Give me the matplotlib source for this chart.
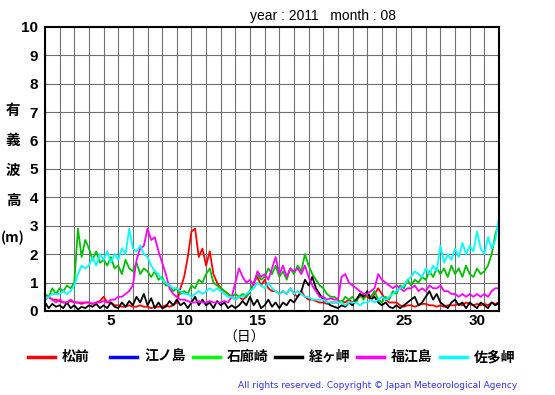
import numpy as np
import matplotlib.pyplot as plt
from matplotlib.lines import Line2D

# significant wave height, August 2011, sampled every 6 hours (4 values per day)
days = np.arange(125) / 4.0

matsumae = [0.4, 0.5, 0.4, 0.4, 0.35, 0.3, 0.3, 0.35, 0.3, 0.3, 0.25, 0.3, 0.3, 0.25, 0.3, 0.35,
            0.5, 0.3, 0.3, 0.2, 0.2, 0.15, 0.15, 0.2, 0.15, 0.15, 0.2, 0.15, 0.15, 0.1, 0.15, 0.15,
            0.15, 0.2, 0.15, 0.2, 0.3, 0.8, 1.2, 1.9, 2.8, 2.9, 1.9, 2.2, 1.6, 2.1, 1.3, 1.0,
            0.8, 0.7, 0.6, 0.5, 0.4, 0.5, 0.4, 0.5, 0.7, 1.0, 1.2, 0.9, 1.1, 0.8, 0.7, 0.7,
            0.6, 0.7, 0.6, 0.8, 0.6, 0.5, 0.7, 0.5, 0.4, 0.4, 0.35, 0.3, 0.3, 0.25, 0.3, 0.3,
            0.3, 0.35, 0.3, 0.4, 0.3, 0.4, 0.5, 0.6, 0.5, 0.4, 0.6, 0.8, 0.6, 0.4, 0.3, 0.3,
            0.3, 0.2, 0.15, 0.2, 0.2, 0.15, 0.2, 0.25, 0.25, 0.2, 0.2, 0.15, 0.2, 0.15, 0.2, 0.2,
            0.2, 0.25, 0.2, 0.3, 0.25, 0.2, 0.25, 0.2, 0.25, 0.2, 0.3, 0.25, 0.3]
enoshima = []
irozaki = [0.6, 0.5, 0.8, 0.6, 0.8, 0.7, 0.9, 0.8, 1.0, 2.9, 1.9, 2.5, 2.2, 1.8, 2.1, 1.7,
           1.8, 1.6, 1.9, 1.5, 1.6, 1.3, 1.8, 1.5, 1.4, 1.7, 1.3, 1.5, 1.4, 1.2, 1.4, 1.1,
           1.2, 0.9, 0.9, 0.7, 0.8, 0.6, 0.7, 0.6, 0.9, 0.8, 1.1, 1.0, 1.3, 1.5, 1.0, 0.9,
           0.8, 0.7, 0.6, 0.5, 0.6, 0.5, 0.6, 0.5, 0.7, 1.0, 1.3, 1.1, 1.2, 1.5, 1.3, 1.6,
           1.2, 1.4, 1.1, 1.5, 1.3, 1.6, 1.4, 2.0, 1.6, 1.3, 1.1, 0.9, 0.8, 0.6, 0.5, 0.5,
           0.4, 0.3, 0.5, 0.4, 0.5, 0.3, 0.6, 0.4, 0.6, 0.5, 0.7, 0.4, 0.3, 0.5, 0.4, 0.7,
           0.6, 0.9, 0.8, 1.1, 0.9, 1.1, 1.0, 1.2, 1.1, 1.4, 1.2, 1.5, 1.3, 1.5, 1.2, 1.6,
           1.3, 1.5, 1.2, 1.6, 1.3, 1.2, 1.5, 1.3, 1.4, 1.6, 2.0, 2.7, 3.1]
kyogamisaki = [0.3, 0.1, 0.25, 0.15, 0.2, 0.1, 0.3, 0.1, 0.2, 0.05, 0.15, 0.1, 0.2, 0.15, 0.25, 0.1,
               0.2, 0.1, 0.3, 0.15, 0.1, 0.3, 0.15, 0.35, 0.2, 0.5, 0.3, 0.6, 0.2, 0.45, 0.1, 0.3,
               0.1, 0.15, 0.35, 0.2, 0.4, 0.2, 0.3, 0.1, 0.3, 0.5, 0.2, 0.4, 0.2, 0.3, 0.1, 0.35,
               0.2, 0.3, 0.1, 0.2, 0.1, 0.2, 0.35, 0.2, 0.5, 0.2, 0.4, 0.1, 0.2, 0.4, 0.15, 0.3,
               0.1, 0.3, 0.2, 0.4, 0.3, 0.5, 0.7, 1.1, 0.9, 1.2, 0.8, 0.6, 0.4, 0.3, 0.2, 0.15,
               0.1, 0.2, 0.15, 0.3, 0.2, 0.4, 0.6, 0.5, 0.7, 0.4, 0.5, 0.3, 0.2, 0.3, 0.15, 0.1,
               0.2, 0.1, 0.2, 0.3, 0.4, 0.5, 0.2, 0.3, 0.5, 0.7, 0.4, 0.6, 0.3, 0.2, 0.1, 0.3,
               0.4, 0.2, 0.3, 0.1, 0.3, 0.2, 0.1, 0.3, 0.2, 0.1, 0.3, 0.2, 0.3]
fukuejima = [0.4, 0.5, 0.4, 0.3, 0.4, 0.3, 0.3, 0.4, 0.3, 0.3, 0.3, 0.3, 0.3, 0.25, 0.3, 0.3,
             0.35, 0.3, 0.4, 0.4, 0.5, 0.5, 0.6, 0.7, 0.9, 1.8, 2.2, 2.3, 2.9, 2.5, 2.6, 2.1,
             1.7, 1.3, 0.8, 0.6, 0.5, 0.4, 0.4, 0.35, 0.3, 0.3, 0.35, 0.3, 0.3, 0.35, 0.3, 0.3,
             0.3, 0.35, 0.3, 0.5, 1.0, 1.5, 1.2, 1.0, 1.1, 0.9, 1.4, 1.2, 1.3, 1.1, 1.5, 1.9,
             1.3, 1.6, 1.2, 1.5, 1.4, 1.5, 1.3, 1.6, 1.2, 0.9, 0.7, 0.5, 0.5, 0.4, 0.45, 0.4,
             0.4, 1.2, 1.3, 1.0, 0.9, 0.8, 0.7, 0.6, 0.6, 0.7, 0.8, 1.3, 1.1, 1.0, 0.9, 0.8,
             0.9, 0.8, 0.7, 0.8, 0.8, 0.9, 0.7, 0.8, 0.7, 0.9, 0.8, 0.8, 0.9, 0.7, 0.7, 0.6,
             0.6, 0.5, 0.6, 0.5, 0.6, 0.5, 0.6, 0.5, 0.6, 0.5, 0.7, 0.8, 0.8]
satamisaki = [0.4, 0.5, 0.6, 0.6, 0.6, 0.7, 0.6, 0.7, 0.9, 1.3, 1.6, 1.5, 1.6, 1.9, 1.6, 2.0,
              1.8, 2.1, 1.7, 2.0, 1.8, 2.2, 2.0, 2.9, 2.2, 2.1, 2.3, 2.0, 1.9, 1.6, 1.4, 1.3,
              1.1, 1.0, 0.9, 0.8, 0.8, 0.7, 0.6, 0.6, 0.5, 0.6, 0.7, 0.6, 0.7, 0.8, 0.7, 0.8,
              0.7, 0.6, 0.5, 0.5, 0.4, 0.5, 0.5, 0.6, 0.7, 0.8, 1.0, 0.9, 0.8, 1.0, 0.8, 0.7,
              0.6, 0.7, 0.6, 0.8, 0.6, 0.7, 0.6, 0.5, 0.5, 0.4, 0.4, 0.4, 0.4, 0.3, 0.3, 0.3,
              0.3, 0.3, 0.2, 0.3, 0.3, 0.3, 0.2, 0.3, 0.3, 0.4, 0.3, 0.4, 0.5, 0.4, 0.5, 0.6,
              0.7, 0.8, 0.9, 1.1, 1.2, 1.4, 1.3, 1.2, 1.5, 1.3, 1.6, 1.4, 2.3, 1.7, 2.0, 1.8,
              2.2, 1.9, 2.4, 2.0, 2.3, 2.1, 2.8, 2.2, 2.0, 2.6, 2.2, 2.5, 3.3]

stations = ['松前', '江ノ島', '石廊崎', '経ヶ岬', '福江島', '佐多岬']
series = [matsumae, enoshima, irozaki, kyogamisaki, fukuejima, satamisaki]
colors = ['#ff0000', '#0000ff', '#00c000', '#000000', '#ff00ff', '#00ffff']
legend_colors = ['#ff0000', '#0000ff', '#00ff00', '#000000', '#ff00ff', '#00ffff']

xtick_days = [5, 10, 15, 20, 25, 30]

plt.rcParams['font.family'] = ['Noto Sans CJK JP', 'DejaVu Sans']

fig = plt.figure(figsize=(5.55, 3.95), dpi=100)
ax = fig.add_axes([45 / 555, 1 - 311 / 395, 454 / 555, 284 / 395])

for vals, c in zip(series, colors):
    if len(vals):
        ax.plot(days[:len(vals)], vals, color=c, linewidth=1.3)

ax.set_xlim(0, 31)
ax.set_ylim(0, 10)
ax.set_xticks(np.arange(0, 32), minor=False)
ax.set_xticklabels([])
ax.set_xticks([d - 0.5 for d in xtick_days], minor=True)
ax.set_xticklabels([str(d) for d in xtick_days], minor=True,
                   fontfamily='Liberation Sans', fontweight='bold', fontsize=11)
ax.set_yticks(np.arange(0, 11))
ax.set_yticklabels([str(v) for v in range(11)], fontfamily='Liberation Sans',
                   fontweight='bold', fontsize=11)
ax.tick_params(which='both', length=0)
ax.tick_params(axis='y', pad=5)
ax.tick_params(axis='x', which='minor', pad=2)
ax.grid(True, which='major', color='#707070', linewidth=0.8)
ax.set_axisbelow(True)
for sp in ax.spines.values():
    sp.set_linewidth(1.5)

fig.text(250 / 555, 1 - 16 / 395, 'year : 2011   month : 08', fontfamily='Liberation Sans',
         fontsize=10, va='center', ha='left')

for i, ch in enumerate(['有', '義', '波', '高']):
    fig.text(13 / 555, 1 - (110 + 30 * i) / 395, ch, fontsize=10.5, fontweight='bold',
             ha='center', va='center')
fig.text(13 / 555, 1 - 238 / 395, '(m)', fontsize=10, fontweight='bold', ha='center', va='center')
fig.text(244 / 555, 1 - 338 / 395, '（日）', fontsize=10, ha='center', va='center')

# legend row
for i, (name, c) in enumerate(zip(stations, legend_colors)):
    x0 = (28 + 82.3 * i) / 555
    fig.add_artist(Line2D([x0, x0 + 27 / 555], [1 - 357 / 395] * 2, color=c, linewidth=2.5))
    fig.text(x0 + 34 / 555, 1 - 357 / 395, name, fontsize=10, fontweight='bold',
             ha='left', va='center')

fig.text(517 / 555, 1 - 385 / 395, 'All rights reserved. Copyright © Japan Meteorological Agency',
         fontfamily='DejaVu Sans', fontsize=6.5, color='#3030ff', ha='right', va='center')

fig.savefig('out.png', dpi=100)
